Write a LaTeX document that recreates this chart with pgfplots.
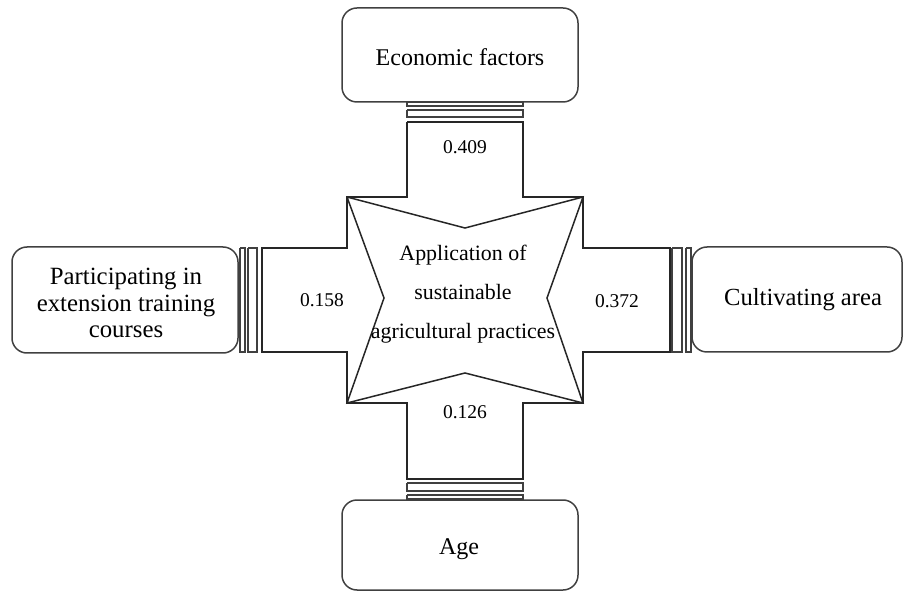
\documentclass[border=0pt]{standalone}
\usepackage{pgfplots}
\pgfplotsset{compat=1.18}
\usepackage{fontspec}
\setmainfont{Liberation Serif}
\begin{document}
\begin{tikzpicture}
\begin{axis}[
  width=451.5pt, height=296pt, scale only axis,
  xmin=0, xmax=903, ymin=0, ymax=592, y dir=reverse,
  hide axis, clip=false, no markers,
]
\pgfplotsset{ln/.style={draw=black!75, line width=0.75pt, sharp plot, mark=none, solid}}
% invisible frame to fix the bounding box
\addplot[draw=none, mark=none] coordinates {(0,0) (903,0) (903,592) (0,592)};
% outer boxes (rounded)
\addplot[ln, rounded corners=7.5pt] coordinates {(460,8) (578,8) (578,102) (342,102) (342,8) (460,8)};
\addplot[ln, rounded corners=7.5pt] coordinates {(125,247) (238,247) (238,353) (12,353) (12,247) (125,247)};
\addplot[ln, rounded corners=7.5pt] coordinates {(800,247) (902,247) (902,352) (692,352) (692,247) (800,247)};
\addplot[ln, rounded corners=7.5pt] coordinates {(460,500) (578,500) (578,590) (342,590) (342,500) (460,500)};
% connector bars
\addplot[ln] coordinates {(407,102) (523,102) (523,106) (407,106) (407,102)};
\addplot[ln] coordinates {(407,110) (523,110) (523,117) (407,117) (407,110)};
\addplot[ln] coordinates {(407,483) (523,483) (523,491) (407,491) (407,483)};
\addplot[ln] coordinates {(407,495) (523,495) (523,499) (407,499) (407,495)};
\addplot[ln] coordinates {(240,248) (245,248) (245,352) (240,352) (240,248)};
\addplot[ln] coordinates {(248,248) (257,248) (257,352) (248,352) (248,248)};
\addplot[ln] coordinates {(672,248) (682,248) (682,352) (672,352) (672,248)};
\addplot[ln] coordinates {(686,248) (691,248) (691,352) (686,352) (686,248)};
% cross outline
\addplot[ln, draw=black!85] coordinates {(407,122) (523,122) (523,197) (583,197) (583,248) (670,248) (670,352) (583,352) (583,403) (523,403) (523,479) (407,479) (407,403) (347,403) (347,352) (262,352) (262,248) (347,248) (347,197) (407,197) (407,122)};
% star
\addplot[ln, draw=black!85] coordinates {(347,197) (465,228) (583,197) (547,298) (583,403) (465,373) (347,403) (384,298) (347,197)};
% texts
\node[font=\fontsize{12}{13.25}\selectfont] at (axis cs:460,57) {Economic factors};
\node[font=\fontsize{12.4}{13.25}\selectfont, align=center] at (axis cs:126,303) {Participating in\\extension training\\courses};
\node[font=\fontsize{12.3}{13.25}\selectfont] at (axis cs:803,300) {Cultivating area};
\node[font=\fontsize{12}{13.25}\selectfont] at (axis cs:459,549) {Age};
\node[font=\fontsize{10.95}{19.5}\selectfont, align=center] at (axis cs:463,294) {Application of\\sustainable\\agricultural practices};
\node[font=\fontsize{9.75}{11}\selectfont] at (axis cs:465,147) {0.409};
\node[font=\fontsize{9.75}{11}\selectfont] at (axis cs:322,300) {0.158};
\node[font=\fontsize{9.75}{11}\selectfont] at (axis cs:617,301) {0.372};
\node[font=\fontsize{9.75}{11}\selectfont] at (axis cs:465,412) {0.126};
\end{axis}
\end{tikzpicture}
\end{document}
